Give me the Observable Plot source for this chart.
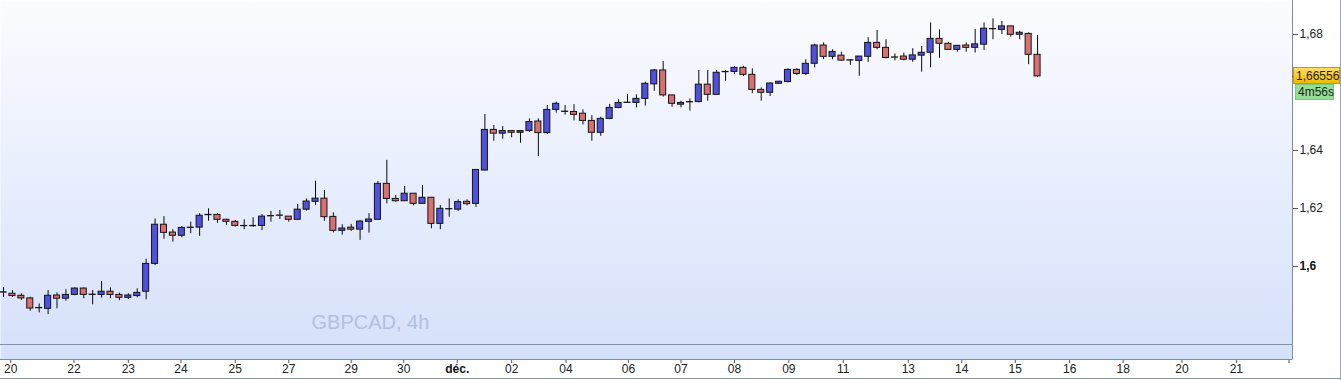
<!DOCTYPE html>
<html><head><meta charset="utf-8">
<script src="https://cdn.jsdelivr.net/npm/d3@7"></script>
<script src="https://cdn.jsdelivr.net/npm/@observablehq/plot@0.6"></script>
<style>
html,body{margin:0;padding:0;background:#fff;}
#chart{position:relative;width:1341px;height:380px;overflow:hidden;}
#chart svg{display:block;}
</style></head><body>
<svg width="0" height="0" style="position:absolute"><defs>
<linearGradient id="bg" x1="0" y1="0" x2="0" y2="1">
<stop offset="0" stop-color="#fbfcff"/><stop offset="1" stop-color="#d5e0fa"/>
</linearGradient>
<linearGradient id="gold" x1="0" y1="0" x2="0" y2="1">
<stop offset="0" stop-color="#ffe066"/><stop offset="1" stop-color="#f0b800"/>
</linearGradient>
</defs></svg>
<div id="chart"></div>
<script>
// ---- data (GBPCAD, 4h candles) ----
const opens = [1.5910,1.5906,1.5899,1.5890,1.5856,1.5854,1.5900,1.5889,1.5902,1.5924,
1.5902,1.5902,1.5913,1.5902,1.5892,1.5898,1.5913,1.6009,1.6144,1.6117,
1.6106,1.6133,1.6134,1.6177,1.6178,1.6161,1.6154,1.6139,1.6139,1.6140,
1.6173,1.6175,1.6172,1.6161,1.6196,1.6223,1.6234,1.6171,1.6123,1.6134,
1.6127,1.6154,1.6161,1.6285,1.6233,1.6225,1.6251,1.6216,1.6237,1.6147,
1.6197,1.6196,1.6223,1.6216,1.6331,1.6471,1.6458,1.6467,1.6461,1.6467,
1.6500,1.6460,1.6540,1.6533,1.6533,1.6527,1.6502,1.6461,1.6509,1.6547,
1.6564,1.6564,1.6578,1.6628,1.6676,1.6590,1.6558,1.6566,1.6567,1.6627,
1.6592,1.6670,1.6671,1.6685,1.6661,1.6609,1.6599,1.6630,1.6636,1.6678,
1.6664,1.6699,1.6762,1.6723,1.6727,1.6710,1.6709,1.6723,1.6771,1.6754,
1.6721,1.6724,1.6713,1.6727,1.6737,1.6785,1.6768,1.6747,1.6762,1.6754,
1.6765,1.6818,1.6816,1.6828,1.6799,1.6802,1.6730];
const highs = [1.5928,1.5917,1.5906,1.5894,1.5871,1.5917,1.5909,1.5920,1.5926,1.5926,
1.5917,1.5948,1.5926,1.5908,1.5906,1.5923,1.6025,1.6164,1.6172,1.6127,
1.6138,1.6153,1.6182,1.6199,1.6183,1.6163,1.6159,1.6161,1.6168,1.6179,
1.6190,1.6193,1.6172,1.6214,1.6233,1.6294,1.6262,1.6185,1.6144,1.6145,
1.6159,1.6182,1.6293,1.6366,1.6245,1.6276,1.6251,1.6279,1.6237,1.6210,
1.6233,1.6230,1.6230,1.6333,1.6524,1.6486,1.6483,1.6467,1.6467,1.6509,
1.6509,1.6555,1.6567,1.6555,1.6558,1.6540,1.6520,1.6515,1.6559,1.6575,
1.6593,1.6592,1.6636,1.6679,1.6707,1.6590,1.6570,1.6578,1.6676,1.6676,
1.6676,1.6676,1.6690,1.6690,1.6682,1.6616,1.6633,1.6639,1.6682,1.6682,
1.6713,1.6766,1.6771,1.6747,1.6739,1.6713,1.6724,1.6789,1.6814,1.6782,
1.6733,1.6736,1.6751,1.6759,1.6840,1.6816,1.6773,1.6762,1.6771,1.6817,
1.6840,1.6854,1.6845,1.6828,1.6811,1.6806,1.6797];
const lows = [1.5893,1.5893,1.5883,1.5846,1.5840,1.5834,1.5854,1.5880,1.5899,1.5889,
1.5868,1.5891,1.5889,1.5882,1.5886,1.5892,1.5885,1.6003,1.6094,1.6084,
1.6099,1.6113,1.6104,1.6156,1.6149,1.6142,1.6136,1.6127,1.6135,1.6124,
1.6153,1.6162,1.6153,1.6161,1.6191,1.6211,1.6156,1.6116,1.6108,1.6121,
1.6090,1.6115,1.6161,1.6216,1.6222,1.6225,1.6209,1.6216,1.6130,1.6127,
1.6170,1.6190,1.6209,1.6204,1.6329,1.6432,1.6439,1.6444,1.6425,1.6463,
1.6379,1.6455,1.6529,1.6522,1.6502,1.6488,1.6432,1.6449,1.6506,1.6544,
1.6564,1.6547,1.6553,1.6604,1.6584,1.6549,1.6547,1.6536,1.6564,1.6570,
1.6592,1.6639,1.6662,1.6655,1.6596,1.6570,1.6586,1.6628,1.6633,1.6658,
1.6659,1.6685,1.6713,1.6713,1.6708,1.6694,1.6656,1.6704,1.6747,1.6716,
1.6709,1.6709,1.6704,1.6670,1.6685,1.6718,1.6745,1.6739,1.6739,1.6736,
1.6745,1.6782,1.6800,1.6791,1.6782,1.6696,1.6651];
const closes = [1.5911,1.5898,1.5890,1.5855,1.5857,1.5899,1.5889,1.5902,1.5924,1.5902,
1.5903,1.5913,1.5902,1.5892,1.5900,1.5909,1.6009,1.6144,1.6116,1.6106,
1.6133,1.6134,1.6175,1.6178,1.6161,1.6154,1.6140,1.6140,1.6140,1.6172,
1.6174,1.6176,1.6161,1.6196,1.6224,1.6234,1.6170,1.6123,1.6131,1.6127,
1.6155,1.6162,1.6285,1.6233,1.6225,1.6251,1.6216,1.6237,1.6147,1.6199,
1.6198,1.6222,1.6215,1.6333,1.6471,1.6458,1.6467,1.6461,1.6467,1.6498,
1.6460,1.6540,1.6561,1.6534,1.6523,1.6502,1.6461,1.6509,1.6547,1.6564,
1.6565,1.6578,1.6630,1.6676,1.6590,1.6561,1.6564,1.6567,1.6627,1.6592,
1.6668,1.6671,1.6685,1.6661,1.6609,1.6599,1.6631,1.6637,1.6678,1.6664,
1.6699,1.6762,1.6723,1.6740,1.6710,1.6711,1.6724,1.6771,1.6754,1.6719,
1.6720,1.6713,1.6728,1.6737,1.6785,1.6768,1.6747,1.6761,1.6754,1.6766,
1.6820,1.6819,1.6828,1.6799,1.6806,1.6730,1.66556];

// x-axis date labels, positioned on the candle-index axis
const xTickPos    = [0.8, 7.9, 14.0, 19.9, 26.0, 32.0, 39.0, 44.9, 50.9, 57.0, 63.1, 70.1, 76.0, 82.0, 88.1, 94.2, 101.5, 107.5, 113.5, 119.6, 125.6, 132.2, 138.3, 144.2];
const xTickLabels = ["20","22","23","24","25","27","29","30","déc.","02","04","06","07","08","09","11","13","14","15","16","18","20","21",""];
const xBoldLabels = ["déc."];

// y-axis price ticks
const yTicks = [1.6, 1.62, 1.64, 1.68];
const yBoldTicks = [1.6];

const symbolLabel = "GBPCAD, 4h";
const countdownLabel = "4m56s";

// ---- build ----
const candles = opens.map((o, i) => ({i, open: o, high: highs[i], low: lows[i], close: closes[i]}));
const labelOf = new Map(xTickPos.map((p, k) => [p, xTickLabels[k]]));
const xNormal = xTickPos.filter((p, k) => !xBoldLabels.includes(xTickLabels[k]));
const xBold = xTickPos.filter((p, k) => xBoldLabels.includes(xTickLabels[k]));
const fmtY = d => String(+d.toFixed(2)).replace(".", ",");

const BLUE = "#5050de", RED = "#d97070";

const plot = Plot.plot({
  width: 1341, height: 380,
  marginLeft: 0, marginRight: 49, marginTop: 0, marginBottom: 21,
  style: {fontFamily: "'Liberation Sans', Arial, sans-serif", fontSize: "12px", color: "#222", background: "transparent", overflow: "visible"},
  x: {type: "linear", domain: [-0.34, 144.6], axis: null},
  y: {domain: [1.567931, 1.691724], axis: null},
  marks: [
    Plot.frame({fill: "url(#bg)", stroke: null}),
    Plot.text([symbolLabel], {frameAnchor: "bottom-left", textAnchor: "start", lineAnchor: "middle", dx: 311, dy: -37, fontSize: 20, fill: "#b3bfe3"}),
    Plot.axisY(yTicks.filter(t => !yBoldTicks.includes(t)), {anchor: "right", tickSize: 5, tickPadding: 2, tickFormat: fmtY, stroke: "#555", fill: "#222", label: null}),
    Plot.axisY(yBoldTicks, {anchor: "right", tickSize: 5, tickPadding: 2, tickFormat: fmtY, stroke: "#555", fill: "#111", fontWeight: "bold", label: null}),
    Plot.axisX(xNormal, {anchor: "bottom", tickSize: 4, tickPadding: 1, tickFormat: d => labelOf.get(d), stroke: "#555", fill: "#222", label: null}),
    Plot.axisX(xBold, {anchor: "bottom", tickSize: 4, tickPadding: 1, tickFormat: d => labelOf.get(d), stroke: "#555", fill: "#111", fontWeight: "bold", label: null}),
    Plot.ruleX(candles, {x: "i", y1: "low", y2: "high", stroke: "#0a0a0a", strokeWidth: 1}),
    Plot.rect(candles, {
      x1: d => d.i - 0.34, x2: d => d.i + 0.34,
      y1: "open", y2: "close",
      fill: d => d.close >= d.open ? BLUE : RED,
      stroke: "#141414", strokeWidth: 1
    })
  ]
});

document.getElementById("chart").appendChild(plot);

// ---- decorations: pane borders, current-price label ----
const svg = d3.select(plot);
const xs = plot.scale("x"), ys = plot.scale("y");
const right = xs.range[1], bottom = ys.range[0];
const deco = svg.append("g").attr("text-anchor", "start");
deco.append("line").attr("x1", 0).attr("x2", right).attr("y1", 344.5).attr("y2", 344.5).attr("stroke", "#8092ad");
deco.append("line").attr("x1", right + 0.5).attr("x2", right + 0.5).attr("y1", 0).attr("y2", bottom).attr("stroke", "#7d8ca6");
deco.append("line").attr("x1", 0).attr("x2", right + 0.5).attr("y1", bottom + 0.5).attr("y2", bottom + 0.5).attr("stroke", "#7d8ca6");
deco.append("line").attr("x1", 0).attr("x2", 1341).attr("y1", 378.5).attr("y2", 378.5).attr("stroke", "#8a96aa");
deco.append("line").attr("x1", 1340.5).attr("x2", 1340.5).attr("y1", 0).attr("y2", 380).attr("stroke", "#9aa4b4");

const last = closes[closes.length - 1];
const yp = Math.round(ys.apply(last));
deco.append("line").attr("x1", right).attr("x2", right + 3).attr("y1", yp + 0.5).attr("y2", yp + 0.5).attr("stroke", "#555");
deco.append("rect").attr("x", right + 1.5).attr("y", yp - 8.5).attr("width", 46).attr("height", 16)
  .attr("fill", "url(#gold)").attr("stroke", "#c89a00");
deco.append("text").attr("x", right + 4).attr("y", yp).attr("dy", "0.35em").attr("text-anchor", "start")
  .attr("font-family", "'Liberation Sans', Arial, sans-serif").attr("font-size", 12).attr("fill", "#222")
  .text(String(last).replace(".", ","));
deco.append("rect").attr("x", right + 3.5).attr("y", yp + 8.5).attr("width", 38).attr("height", 15)
  .attr("fill", "#93df95").attr("stroke", "#7cc87e");
deco.append("text").attr("x", right + 6).attr("y", yp + 16).attr("dy", "0.35em").attr("text-anchor", "start")
  .attr("font-family", "'Liberation Sans', Arial, sans-serif").attr("font-size", 12).attr("fill", "#222")
  .text(countdownLabel);
</script>
</body></html>
